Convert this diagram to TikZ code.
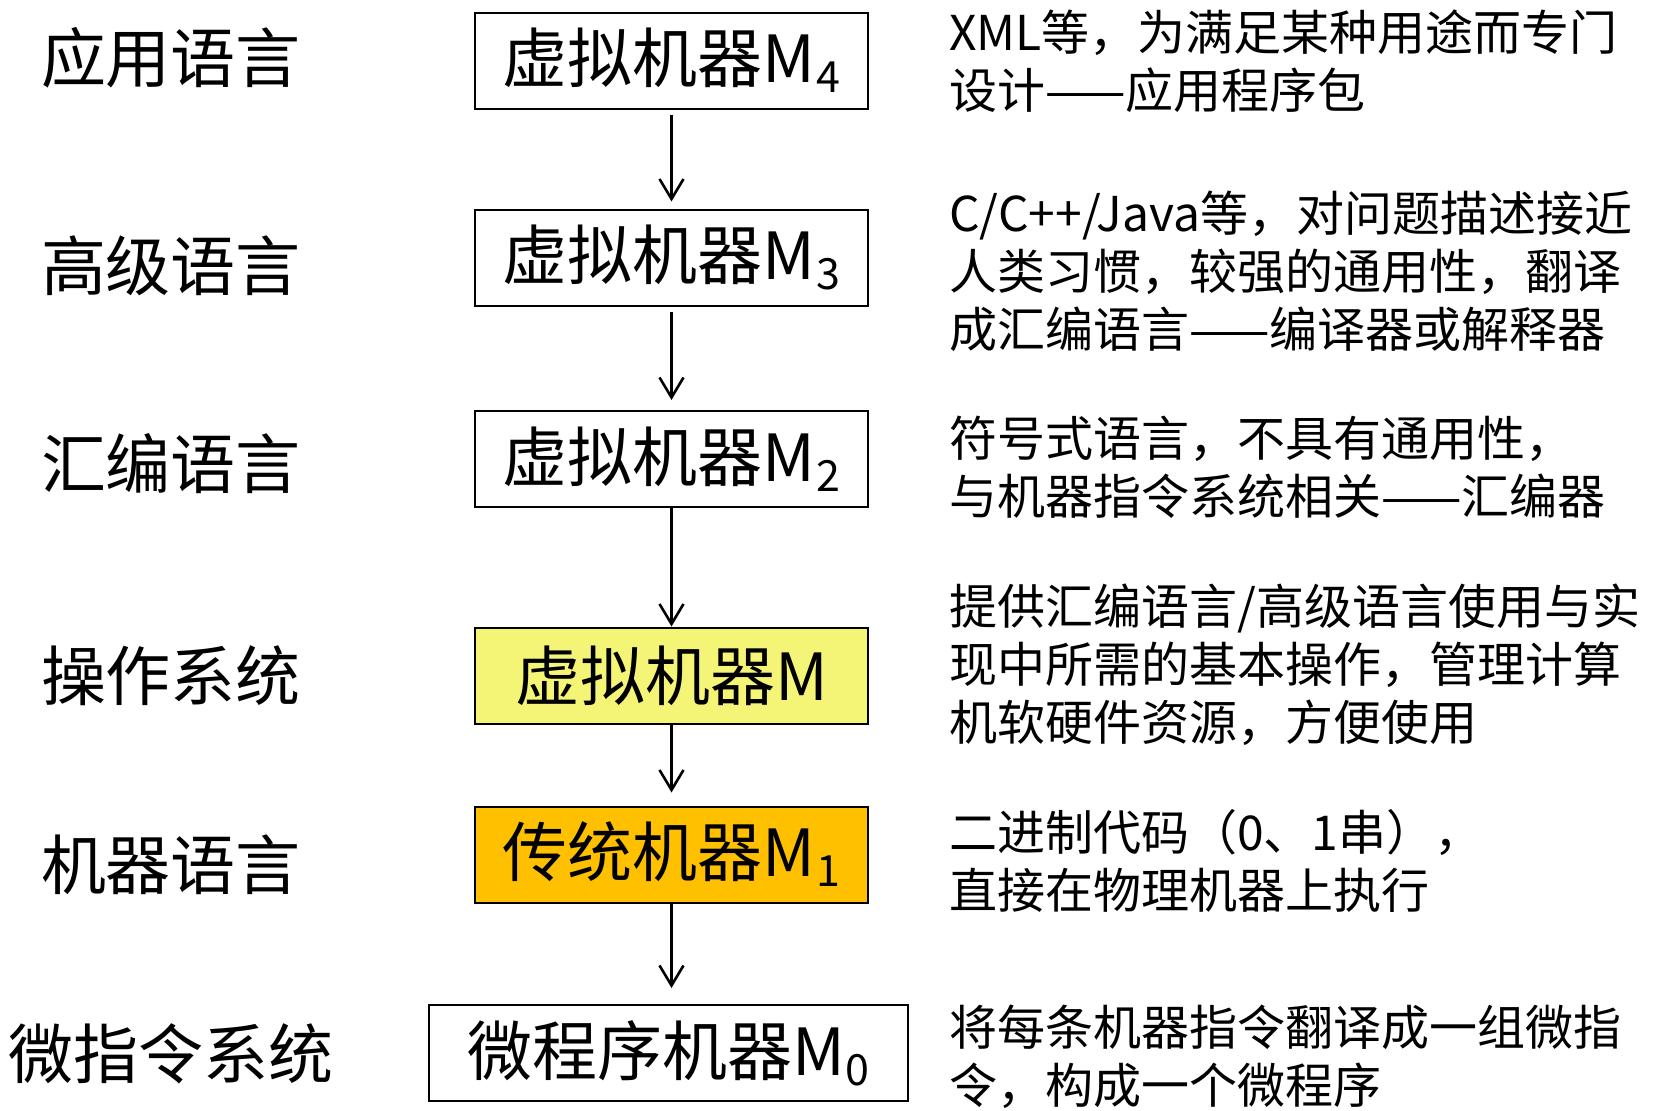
\documentclass[tikz,border=0pt]{standalone}
\usepackage{fontspec}
\setmainfont{Noto Sans CJK SC}
\usetikzlibrary{arrows.meta}
\definecolor{vmyellow}{RGB}{244,244,118}
\definecolor{vmorange}{RGB}{255,192,0}
\newcommand\msub[1]{\kern1pt\raisebox{-10pt}{\fontsize{43}{43}\selectfont #1}}
\begin{document}
\begin{tikzpicture}[x=1pt,y=-1pt,
  box/.style={draw=black, line width=2pt, inner sep=0pt, minimum width=393pt, minimum height=96pt, font=\fontsize{65}{65}\selectfont},
  lab/.style={inner sep=0pt, font=\fontsize{65}{65}\selectfont},
  desc/.style={inner sep=0pt, anchor=west, align=left, font=\fontsize{48}{58}\selectfont},
  arr/.style={line width=2.6pt, -{Straight Barb[length=20pt,width=24pt]}}
]
\fill[white] (0,0) rectangle (1666,1111);
\useasboundingbox (0,0) rectangle (1666,1111);

% boxes
\node[box] (m4) at (671.5,60.5) {虚拟机器M\msub{4}};
\node[box] (m3) at (671.5,257.5) {虚拟机器M\msub{3}};
\node[box] (m2) at (671.5,459) {虚拟机器M\msub{2}};
\node[box, fill=vmyellow] (m) at (671.5,675.5) {虚拟机器M};
\node[box, fill=vmorange] (m1) at (671.5,854.5) {传统机器M\msub{1}};
\node[box, minimum width=479pt] (m0) at (668.5,1053) {微程序机器M\msub{0}};

% arrows
\draw[arr, shorten <=5pt, shorten >=7pt] (m4.south) -- (m4.south |- m3.north);
\draw[arr, shorten <=5pt, shorten >=10pt] (m3.south) -- (m3.south |- m2.north);
\draw[arr] (m2.south) -- (m2.south |- m.north);
\draw[arr, shorten >=13pt] (m.south) -- (m.south |- m1.north);
\draw[arr, shorten >=16pt] (m1.south) -- (m1.south |- m0.north);

% left labels
\node[lab] (l4) at (171,58) {应用语言};
\node[lab] (l3) at (171,266) {高级语言};
\node[lab] (l2) at (171,464) {汇编语言};
\node[lab] (l) at (171,676) {操作系统};
\node[lab] (l1) at (171,865) {机器语言};
\node[lab] (l0) at (171,1054) {微指令系统};

% descriptions
\node[desc] (d4) at (949,61) {XML等，为满足某种用途而专门\\设计——应用程序包};
\node[desc] (d3) at (949,271) {C/C++/Java等，对问题描述接近\\人类习惯，较强的通用性，翻译\\成汇编语言——编译器或解释器};
\node[desc] (d2) at (949,467) {符号式语言，不具有通用性，\\与机器指令系统相关——汇编器};
\node[desc] (d) at (949,665) {提供汇编语言/高级语言使用与实\\现中所需的基本操作，管理计算\\机软硬件资源，方便使用};
\node[desc] (d1) at (949,861) {二进制代码（0、1串），\\直接在物理机器上执行};
\node[desc] (d0) at (949,1057) {将每条机器指令翻译成一组微指\\令，构成一个微程序};
\end{tikzpicture}
\end{document}
